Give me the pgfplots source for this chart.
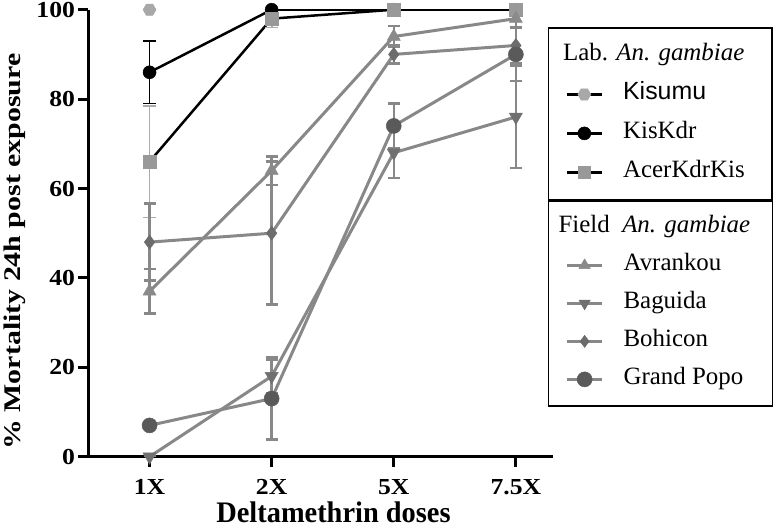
\documentclass[border=0pt]{standalone}
\usepackage{pgfplots}
\pgfplotsset{compat=1.18}
\usepackage{fontspec}
\setmainfont{Liberation Serif}
\newfontfamily\arialfont{Liberation Sans}
\usetikzlibrary{plotmarks}
\pgfdeclareplotmark{hexagon*}{%
  \pgfpathmoveto{\pgfpointpolar{0}{\pgfplotmarksize}}%
  \pgfpathlineto{\pgfpointpolar{60}{\pgfplotmarksize}}%
  \pgfpathlineto{\pgfpointpolar{120}{\pgfplotmarksize}}%
  \pgfpathlineto{\pgfpointpolar{180}{\pgfplotmarksize}}%
  \pgfpathlineto{\pgfpointpolar{240}{\pgfplotmarksize}}%
  \pgfpathlineto{\pgfpointpolar{300}{\pgfplotmarksize}}%
  \pgfpathclose
  \pgfusepathqfillstroke}
\definecolor{kisumu}{HTML}{A8A8A8}
\definecolor{acer}{HTML}{999999}
\definecolor{acerbar}{HTML}{ABABAB}
\definecolor{fieldline}{HTML}{888888}
\definecolor{avr}{HTML}{8A8A8A}
\definecolor{bag}{HTML}{707070}
\definecolor{boh}{HTML}{6C6C6C}
\definecolor{gp}{HTML}{5A5A5A}
\newcommand{\tl}[1]{\scalebox{1.12}[1]{#1}}
\pgfplotsset{
  mylegend/.style={
    legend style={anchor=north west, draw=black, line width=1.5bp, fill=white,
      inner xsep=17bp, column sep=20bp,
      nodes={inner sep=0pt, text height=17bp, text depth=6bp, font=\fontsize{25}{25}\selectfont}},
    legend cell align=left,
    legend image code/.code={\draw[mark repeat=2,mark phase=2,##1] plot coordinates {(0bp,0bp) (17.5bp,0bp) (35bp,0bp)};}
  },
  baseaxis/.style={scale only axis, width=464bp, height=447bp,
    xmin=-0.5, xmax=3.3, ymin=0, ymax=100, at={(0,0)}, anchor=south west},
  fieldstyle/.style={color=fieldline, line width=3bp,
    error bars/.cd, y dir=both, y explicit, error bar style={line width=2.5bp, color=fieldline},
    error mark options={line width=2.5bp, mark size=6bp, rotate=90, color=fieldline}},
}
\begin{document}
\begin{tikzpicture}
\path[use as bounding box] (-88.5bp,-71.3bp) rectangle (687.5bp,456.7bp);
\begin{axis}[baseaxis, mylegend,
  legend style={at={(axis description cs:0.990,0.961)}, inner ysep=16bp, row sep=16bp},
  axis x line*=bottom, axis y line*=left,
  axis line style={line width=3bp, -},
  tick align=outside, major tick length=10bp,
  every tick/.style={line width=3bp, black},
  xtick={0,1,2,3}, xticklabels={\tl{1X},\tl{2X},\tl{5X},\tl{7.5X}},
  ytick={0,20,40,60,80,100},
  yticklabels={\tl{0},\tl{20},\tl{40},\tl{60},\tl{80},\tl{100}},
  ticklabel style={font=\fontsize{23}{23}\selectfont\bfseries},
  xticklabel style={yshift=-9bp},
  every axis x label/.style={at={(axis description cs:0.528,-0.1483)}, anchor=base, inner sep=0pt},
  every axis y label/.style={at={(axis description cs:-0.1584,0.459)}, anchor=center, rotate=90},
  xlabel={\scalebox{1}[1.05]{\fontsize{28.5}{28.5}\selectfont\bfseries Deltamethrin doses}},
  ylabel={\scalebox{1.25}[1]{\fontsize{24}{24}\selectfont\bfseries \% Mortality 24h post exposure}},
]
\addlegendimage{empty legend}
\addlegendentry{\makebox[132bp][l]{\hspace{-60bp}Lab. \textit{An. gambiae}}}
% Kisumu
\addplot[black, line width=2.5bp, mark=hexagon*, mark size=6.5bp, mark options={fill=kisumu, draw=kisumu, line width=0.5bp}]
  coordinates {(0,100)};
\addlegendentry{\makebox[132bp][l]{\arialfont Kisumu}}
% KisKdr
\addplot[black, line width=2.5bp, mark=*, mark size=6.5bp, mark options={fill=black, draw=black, line width=0.5bp},
  error bars/.cd, y dir=both, y explicit, error bar style={line width=1.8bp, black},
  error mark options={line width=1.8bp, mark size=6.5bp, rotate=90, black}]
  coordinates {(0,86) +- (0,7) (1,100) +- (0,0) (2,100) +- (0,0) (3,100) +- (0,0)};
\addlegendentry{\makebox[132bp][l]{KisKdr}}
% AcerKdrKis
\addplot[black, line width=2.5bp, mark=square*, mark size=6.3bp, mark options={fill=acer, draw=acer, line width=0.5bp},
  error bars/.cd, y dir=both, y explicit, error bar style={line width=1.8bp, acerbar},
  error mark options={line width=1.8bp, mark size=6.5bp, rotate=90, acerbar}]
  coordinates {(0,66) +- (0,12.5) (1,98) +- (0,2) (2,100) +- (0,0) (3,100) +- (0,0)};
\addlegendentry{\makebox[132bp][l]{AcerKdrKis}}
% Field populations
\addplot[forget plot, mark size=7.5bp, mark=triangle*, mark options={fill=avr, draw=avr, line width=0.5bp, rotate=0}, fieldstyle]
  coordinates {(0,37) +- (0,5) (1,64) +- (0,3.2) (2,94) +- (0,2.3) (3,98) +- (0,2)};
\addplot[forget plot, mark size=7.5bp, mark=triangle*, mark options={fill=bag, draw=bag, line width=0.5bp, rotate=180}, fieldstyle]
  coordinates {(0,0) +- (0,0) (1,18) +- (0,3.7) (2,68) +- (0,5.7) (3,76) +- (0,11.4)};
\addplot[forget plot, mark size=7bp, mark=diamond*, mark options={fill=boh, draw=boh, line width=0.5bp}, fieldstyle]
  coordinates {(0,48) +- (0,8.6) (1,50) +- (0,16) (2,90) +- (0,2) (3,92) +- (0,4)};
\addplot[forget plot, mark size=7.5bp, mark=*, mark options={fill=gp, draw=gp, line width=0.5bp}, fieldstyle]
  coordinates {(0,7) +- (0,0) (1,13) +- (0,9.2) (2,74) +- (0,5) (3,90) +- (0,6)};
\end{axis}
\begin{axis}[baseaxis, mylegend, hide axis,
  legend style={at={(axis description cs:0.990,0.574)}, inner ysep=15bp, row sep=15bp}]
\addlegendimage{empty legend}
\addlegendentry{\makebox[132bp][l]{\hspace{-65bp}Field \ \textit{An. gambiae}}}
\addlegendimage{fieldline, line width=3bp, mark=triangle*, mark size=6.5bp, mark options={fill=avr, draw=avr, line width=0.5bp}}
\addlegendentry{\makebox[132bp][l]{Avrankou}}
\addlegendimage{fieldline, line width=3bp, mark=triangle*, mark size=6.5bp, mark options={fill=bag, draw=bag, line width=0.5bp, rotate=180}}
\addlegendentry{\makebox[132bp][l]{Baguida}}
\addlegendimage{fieldline, line width=3bp, mark=diamond*, mark size=6bp, mark options={fill=boh, draw=boh, line width=0.5bp}}
\addlegendentry{\makebox[132bp][l]{Bohicon}}
\addlegendimage{fieldline, line width=3bp, mark=*, mark size=7.5bp, mark options={fill=gp, draw=gp, line width=0.5bp}}
\addlegendentry{\makebox[132bp][l]{Grand Popo}}
\end{axis}
\end{tikzpicture}
\end{document}
